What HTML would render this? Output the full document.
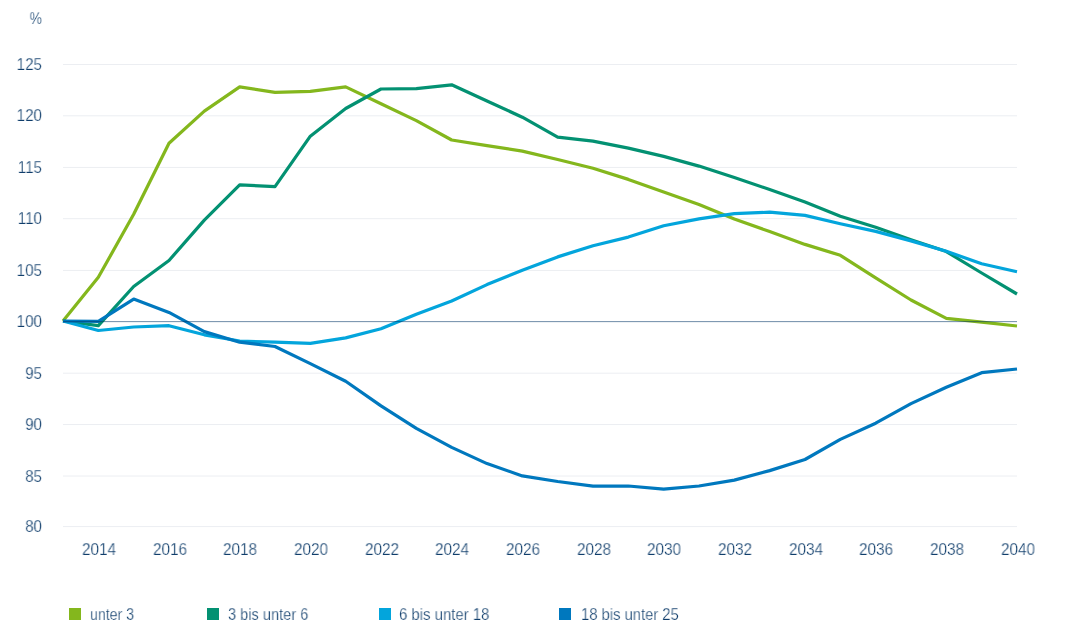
<!DOCTYPE html>
<html><head><meta charset="utf-8"><style>
html,body{margin:0;padding:0;background:#fff;}
body{width:1080px;height:632px;position:relative;overflow:hidden;font-family:'Liberation Sans',sans-serif;color:#0f3d6b;}
.t{position:absolute;white-space:nowrap;font-size:16px;line-height:16px;will-change:transform;-webkit-text-stroke:0.25px #fff;}
.yl{transform-origin:100% 50%;text-align:right;}
.xl{transform-origin:50% 50%;text-align:center;width:60px;}
.lg{transform-origin:0 50%;}
.sq{position:absolute;top:608px;width:12px;height:12px;}
svg{position:absolute;left:0;top:0;}
</style></head><body>
<svg width="1080" height="632" viewBox="0 0 1080 632">
<line x1="63" x2="1017" y1="64.50" y2="64.50" stroke="#eceef2" stroke-width="1"/><line x1="63" x2="1017" y1="115.80" y2="115.80" stroke="#eceef2" stroke-width="1"/><line x1="63" x2="1017" y1="167.45" y2="167.45" stroke="#eceef2" stroke-width="1"/><line x1="63" x2="1017" y1="218.70" y2="218.70" stroke="#eceef2" stroke-width="1"/><line x1="63" x2="1017" y1="270.45" y2="270.45" stroke="#eceef2" stroke-width="1"/><line x1="63" x2="1017" y1="373.20" y2="373.20" stroke="#eceef2" stroke-width="1"/><line x1="63" x2="1017" y1="424.55" y2="424.55" stroke="#eceef2" stroke-width="1"/><line x1="63" x2="1017" y1="476.00" y2="476.00" stroke="#eceef2" stroke-width="1"/><line x1="63" x2="1017" y1="526.60" y2="526.60" stroke="#eceef2" stroke-width="1"/><polyline fill="none" stroke="#84b71d" stroke-width="3.2" stroke-linejoin="round" points="63.00,321.00 98.33,277.30 133.67,214.30 169.00,143.30 204.33,111.10 239.67,86.90 275.00,92.30 310.33,91.40 345.67,86.90 381.00,103.70 416.33,120.60 451.67,140.00 487.00,145.60 522.33,151.10 557.67,159.50 593.00,168.30 628.33,179.40 663.67,191.90 699.00,204.50 734.33,218.90 769.67,231.60 805.00,244.40 840.33,255.30 875.67,277.80 911.00,300.00 946.33,318.40 981.67,322.20 1017.00,326.00"/><polyline fill="none" stroke="#039172" stroke-width="3.2" stroke-linejoin="round" points="63.00,321.00 98.33,325.60 133.67,286.50 169.00,260.50 204.33,220.10 239.67,184.80 275.00,186.70 310.33,136.20 345.67,108.50 381.00,89.00 416.33,88.70 451.67,84.80 487.00,101.00 522.33,117.20 557.67,137.10 593.00,141.10 628.33,148.10 663.67,156.40 699.00,166.10 734.33,177.60 769.67,189.50 805.00,202.10 840.33,216.30 875.67,227.30 911.00,239.70 946.33,251.60 981.67,273.00 1017.00,294.00"/><polyline fill="none" stroke="#03a5dc" stroke-width="3.2" stroke-linejoin="round" points="63.00,321.00 98.33,330.50 133.67,327.00 169.00,325.70 204.33,334.80 239.67,341.00 275.00,342.20 310.33,343.40 345.67,337.90 381.00,328.80 416.33,314.20 451.67,301.00 487.00,284.60 522.33,270.30 557.67,256.90 593.00,245.80 628.33,237.10 663.67,225.80 699.00,218.90 734.33,213.60 769.67,212.20 805.00,215.40 840.33,223.80 875.67,231.40 911.00,240.90 946.33,251.30 981.67,263.70 1017.00,271.80"/><polyline fill="none" stroke="#0078be" stroke-width="3.2" stroke-linejoin="round" points="63.00,321.00 98.33,321.30 133.67,299.10 169.00,312.40 204.33,331.60 239.67,342.20 275.00,346.50 310.33,363.60 345.67,381.20 381.00,405.90 416.33,428.40 451.67,447.40 487.00,463.60 522.33,475.90 557.67,481.50 593.00,486.10 628.33,486.00 663.67,489.20 699.00,486.00 734.33,480.10 769.67,470.60 805.00,459.50 840.33,439.40 875.67,423.20 911.00,403.60 946.33,387.20 981.67,372.70 1017.00,369.00"/><rect x="63" y="321" width="954" height="1" fill="rgba(0,51,102,0.5)"/><rect x="63" y="322" width="954" height="1" fill="rgba(0,51,102,0.07)"/></svg>
<div class="t yl" style="left:0;width:42px;top:11.3px;transform:scaleX(0.87)">%</div>
<div class="t yl" style="left:0;width:42px;top:57.1px;transform:scaleX(0.95)">125</div>
<div class="t yl" style="left:0;width:42px;top:108.4px;transform:scaleX(0.95)">120</div>
<div class="t yl" style="left:0;width:42px;top:160.0px;transform:scaleX(0.95)">115</div>
<div class="t yl" style="left:0;width:42px;top:211.3px;transform:scaleX(0.95)">110</div>
<div class="t yl" style="left:0;width:42px;top:263.1px;transform:scaleX(0.95)">105</div>
<div class="t yl" style="left:0;width:42px;top:314.1px;transform:scaleX(0.95)">100</div>
<div class="t yl" style="left:0;width:42px;top:365.8px;transform:scaleX(0.95)">95</div>
<div class="t yl" style="left:0;width:42px;top:417.2px;transform:scaleX(0.95)">90</div>
<div class="t yl" style="left:0;width:42px;top:468.6px;transform:scaleX(0.95)">85</div>
<div class="t yl" style="left:0;width:42px;top:519.2px;transform:scaleX(0.95)">80</div>
<div class="t xl" style="left:68.9px;top:541.7px;font-size:15.8px;line-height:15.8px;transform:scaleX(0.97)">2014</div>
<div class="t xl" style="left:139.6px;top:541.7px;font-size:15.8px;line-height:15.8px;transform:scaleX(0.97)">2016</div>
<div class="t xl" style="left:210.3px;top:541.7px;font-size:15.8px;line-height:15.8px;transform:scaleX(0.97)">2018</div>
<div class="t xl" style="left:280.9px;top:541.7px;font-size:15.8px;line-height:15.8px;transform:scaleX(0.97)">2020</div>
<div class="t xl" style="left:351.6px;top:541.7px;font-size:15.8px;line-height:15.8px;transform:scaleX(0.97)">2022</div>
<div class="t xl" style="left:422.3px;top:541.7px;font-size:15.8px;line-height:15.8px;transform:scaleX(0.97)">2024</div>
<div class="t xl" style="left:492.9px;top:541.7px;font-size:15.8px;line-height:15.8px;transform:scaleX(0.97)">2026</div>
<div class="t xl" style="left:563.6px;top:541.7px;font-size:15.8px;line-height:15.8px;transform:scaleX(0.97)">2028</div>
<div class="t xl" style="left:634.3px;top:541.7px;font-size:15.8px;line-height:15.8px;transform:scaleX(0.97)">2030</div>
<div class="t xl" style="left:704.9px;top:541.7px;font-size:15.8px;line-height:15.8px;transform:scaleX(0.97)">2032</div>
<div class="t xl" style="left:775.6px;top:541.7px;font-size:15.8px;line-height:15.8px;transform:scaleX(0.97)">2034</div>
<div class="t xl" style="left:846.3px;top:541.7px;font-size:15.8px;line-height:15.8px;transform:scaleX(0.97)">2036</div>
<div class="t xl" style="left:916.9px;top:541.7px;font-size:15.8px;line-height:15.8px;transform:scaleX(0.97)">2038</div>
<div class="t xl" style="left:987.6px;top:541.7px;font-size:15.8px;line-height:15.8px;transform:scaleX(0.97)">2040</div>
<div class="sq" style="left:69px;background:#84b71d"></div><div class="t lg" style="left:89.8px;top:606.9px;transform:scaleX(0.883)">unter 3</div>
<div class="sq" style="left:207px;background:#039172"></div><div class="t lg" style="left:227.9px;top:606.9px;transform:scaleX(0.911)">3 bis unter 6</div>
<div class="sq" style="left:379px;background:#03a5dc"></div><div class="t lg" style="left:398.9px;top:606.9px;transform:scaleX(0.932)">6 bis unter 18</div>
<div class="sq" style="left:559px;background:#0078be"></div><div class="t lg" style="left:580.5px;top:606.9px;transform:scaleX(0.923)">18 bis unter 25</div>
</body></html>
